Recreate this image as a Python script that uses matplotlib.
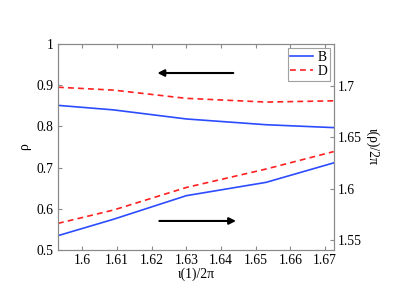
import matplotlib
matplotlib.use('Agg')
import matplotlib.pyplot as plt

plt.rcParams['font.family'] = ['Liberation Serif', 'DejaVu Serif']
plt.rcParams['font.size'] = 9.8

# iota(1)/2pi sample points
iota1 = [1.593, 1.609, 1.630, 1.653, 1.6725]
# rho (left axis)
rho_B = [0.851, 0.840, 0.818, 0.804, 0.797]
rho_D = [0.895, 0.888, 0.868, 0.859, 0.862]
# iota(rho)/2pi (right axis)
iota_B = [1.554, 1.570, 1.593, 1.606, 1.625]
iota_D = [1.566, 1.579, 1.601, 1.619, 1.636]

xticks = [1.60, 1.61, 1.62, 1.63, 1.64, 1.65, 1.66, 1.67]
yticks_left = [0.5, 0.6, 0.7, 0.8, 0.9, 1.0]
yticks_right = [1.55, 1.6, 1.65, 1.7]

blue = '#2b4cff'
red = '#ff2020'
gray = '#8a8a8a'

fig = plt.figure(figsize=(3.93, 2.95), dpi=100)
ax = fig.add_axes([0.1476, 0.1525, 0.7024, 0.6985])
ax2 = ax.twinx()

lB, = ax.plot(iota1, rho_B, color=blue, lw=1.2, label='B')
lD, = ax.plot(iota1, rho_D, color=red, lw=1.2, ls='--', dashes=(3.5, 2.5), label='D')
ax2.plot(iota1, iota_B, color=blue, lw=1.2)
ax2.plot(iota1, iota_D, color=red, lw=1.2, ls='--', dashes=(3.5, 2.5))

ax.set_xlim(1.593, 1.6726)
ax.set_ylim(0.5, 1.0)
ax2.set_ylim(1.540, 1.741)

ax.set_xticks(xticks)
ax.set_xticklabels([f'{t:g}' for t in xticks])
ax.set_yticks(yticks_left)
ax.set_yticklabels([f'{t:g}' for t in yticks_left])
ax2.set_yticks(yticks_right)
ax2.set_yticklabels([f'{t:g}' for t in yticks_right])

for a in (ax, ax2):
    for s in a.spines.values():
        s.set_color(gray)
        s.set_linewidth(0.8)
ax.tick_params(direction='in', top=True, right=False, color=gray, length=3, width=0.8, pad=3)
ax2.tick_params(direction='in', color=gray, length=3, width=0.8, pad=3)

ax.set_xlabel('ι(1)/2π', labelpad=0)
ax.set_ylabel('ρ', labelpad=4)
ax2.set_ylabel('ι(ρ)/2π', rotation=270, labelpad=12)

# direction arrows
ax.annotate('', xy=(0.35, 0.859), xytext=(0.645, 0.859), xycoords='axes fraction',
            arrowprops=dict(arrowstyle='-|>', color='black', lw=1.5, mutation_scale=10))
ax.annotate('', xy=(0.655, 0.141), xytext=(0.357, 0.141), xycoords='axes fraction',
            arrowprops=dict(arrowstyle='-|>', color='black', lw=1.5, mutation_scale=10))

leg = ax.legend(handles=[lB, lD], loc='upper right', fontsize=9.8, handlelength=1.7,
                borderpad=0.2, labelspacing=0.1, handletextpad=0.3,
                fancybox=False, borderaxespad=0.3)
leg.get_frame().set_edgecolor(gray)
leg.get_frame().set_linewidth(0.8)

fig.savefig('out.png', dpi=100)
